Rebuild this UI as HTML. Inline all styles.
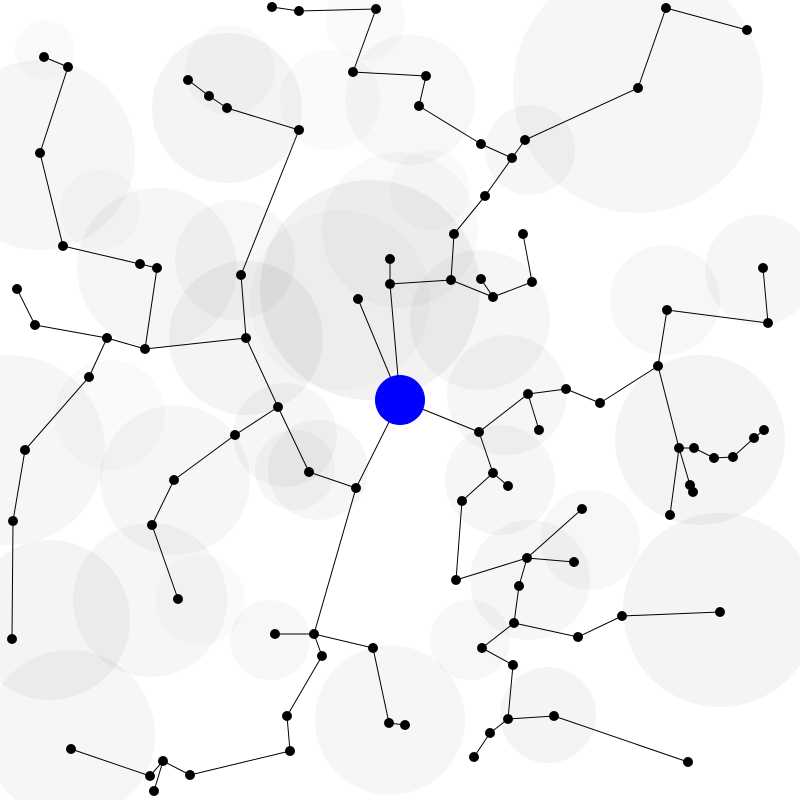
<!DOCTYPE html>
<html><head><meta charset="utf-8"><style>
html,body{margin:0;padding:0;background:#fff;}
svg{display:block;}
</style></head><body>
<svg id="chart" width="800" height="800" viewBox="0 0 800 800">
<g id="halos"></g>
<g id="links"></g>
<g id="nodes"></g>
</svg>
<script>
// node x positions, y positions, parent index (-1 = root)
const nodeX = [400,390,390,358,479,356,451,454,485,512,481,419,426,353,376,299,272,525,638,666,747,493,481,532,523,
528,566,600,658,667,768,763,539,679,694,714,733,754,764,690,693,670,
493,508,462,456,527,582,574,519,514,578,622,720,482,513,508,554,688,490,474,
309,278,246,241,299,227,209,188,235,174,152,178,145,157,140,63,40,68,44,107,35,17,89,25,13,12,
314,275,373,389,405,322,287,290,190,163,150,71,154];
const nodeY = [400,284,259,299,432,488,280,234,196,158,144,106,76,72,9,11,7,140,88,8,30,297,279,282,234,
394,389,403,366,310,323,268,430,448,448,458,457,438,430,485,492,515,
473,486,501,580,558,509,562,586,623,637,616,612,648,665,719,716,762,733,757,
472,407,338,275,130,108,96,80,435,480,525,599,349,268,264,246,153,67,57,338,325,289,377,450,521,639,
634,634,648,723,725,656,716,751,775,761,776,749,791];
const nodeParent = [-1,0,1,0,0,0,1,6,7,8,9,10,11,12,13,14,15,9,17,18,19,6,21,21,23,
4,25,26,27,28,29,30,25,28,33,34,35,36,37,33,39,33,
4,42,42,44,45,46,46,46,49,50,51,52,50,54,55,56,57,56,59,
5,61,62,63,64,65,66,67,62,69,70,71,63,73,74,75,76,77,78,73,80,81,80,83,84,85,
5,87,87,89,90,87,92,93,94,95,96,97,96];
// halo circles: centers and radii
const haloX = [370,400,638,720,40,50,70,227,157,246,410,700,10,365,480,230,175,530,548,507,318,285,270,150,295,340,500,590,760,665,110,200,390,45,100,235,530,430,470,330];
const haloY = [290,230,88,610,155,620,735,108,268,338,100,440,450,20,320,70,480,580,715,395,470,435,640,600,470,300,480,540,270,300,415,600,720,50,210,260,150,190,640,100];
const haloR = [110,78,125,97,95,80,85,75,80,77,65,85,95,40,70,45,75,60,48,60,50,52,40,77,40,90,55,50,55,55,55,45,75,30,40,60,45,40,40,50];
const haloA = [0.05,0.025,0.035,0.045,0.035,0.045,0.035,0.045,0.035,0.045,0.03,0.045,0.035,0.02,0.035,0.025,0.035,0.035,0.045,0.035,0.035,0.035,0.03,0.035,0.03,0.02,0.035,0.03,0.035,0.03,0.02,0.02,0.035,0.02,0.02,0.03,0.035,0.02,0.03,0.02];

const NS='http://www.w3.org/2000/svg';
const halos=document.getElementById('halos');
for(let i=0;i<haloX.length;i++){
  const c=document.createElementNS(NS,'circle');
  c.setAttribute('cx',haloX[i]);c.setAttribute('cy',haloY[i]);c.setAttribute('r',haloR[i]);
  c.setAttribute('fill','#000');c.setAttribute('fill-opacity',haloA[i]);
  
  
  halos.appendChild(c);
}
const links=document.getElementById('links');
for(let i=0;i<nodeX.length;i++){
  const p=nodeParent[i]; if(p<0) continue;
  const l=document.createElementNS(NS,'line');
  l.setAttribute('x1',nodeX[p]);l.setAttribute('y1',nodeY[p]);
  l.setAttribute('x2',nodeX[i]);l.setAttribute('y2',nodeY[i]);
  l.setAttribute('stroke','#000');l.setAttribute('stroke-width','1');
  
  
  links.appendChild(l);
}
const nodes=document.getElementById('nodes');
for(let i=0;i<nodeX.length;i++){
  const c=document.createElementNS(NS,'circle');
  c.setAttribute('cx',nodeX[i]);c.setAttribute('cy',nodeY[i]);
  c.setAttribute('r',i===0?25:5);
  c.setAttribute('fill',i===0?'#0000ff':'#000');
  
  
  nodes.appendChild(c);
}
</script>
</body></html>
